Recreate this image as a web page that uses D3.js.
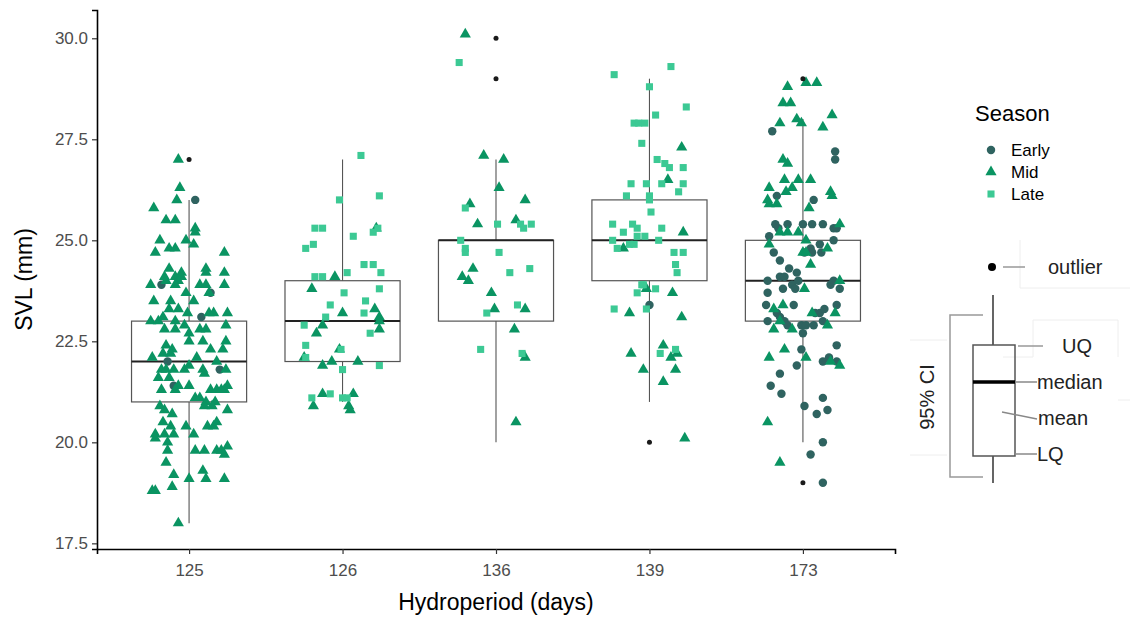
<!DOCTYPE html>
<html>
<head>
<meta charset="utf-8">
<script src="https://cdn.jsdelivr.net/npm/d3@7"></script>
<style>
  body { margin: 0; background: #fff; }
  svg { display: block; font-family: "Liberation Sans", Arial, sans-serif; }
</style>
</head>
<body>
<svg id="chart" width="1139" height="619"></svg>
<script>
// categories and box stats
var cats = ["125", "126", "136", "139", "173"];
var yTicks = [17.5, 20, 22.5, 25, 27.5, 30];
var seasons = ["Early", "Mid", "Late"];
var seasonColors = ["#2f6360", "#0a9462", "#3cc994"];

var boxLo  = [18, 21, 20, 21, 20];
var boxQ1  = [21, 22, 23, 24, 23];
var boxMed = [22, 23, 25, 25, 24];
var boxQ3  = [23, 24, 25, 26, 25];
var boxHi  = [26, 27, 27, 29, 28];
var outliers = [[27], [], [30, 29], [20], [29, 19]];

// jittered points: [category, jitter (fraction of step), SVL]
var earlyPts = [
  ["125",0.04,26.0],["125",-0.18,23.9],["125",0.14,23.7],["125",0.08,23.1],["125",-0.14,22.0],
  ["125",0.20,21.8],["125",-0.10,21.4],
  ["139",0.00,23.4],
  ["173",-0.20,27.7],["173",0.21,27.2],["173",0.21,27.0],["173",-0.17,26.1],["173",0.07,26.0],
  ["173",-0.18,25.4],["173",-0.16,25.3],["173",-0.10,25.4],["173",0.00,25.4],["173",0.06,25.4],
  ["173",0.13,25.4],["173",0.20,25.3],["173",0.22,25.3],["173",-0.22,25.1],["173",0.20,25.0],
  ["173",0.11,24.9],["173",0.05,24.8],["173",0.06,24.7],["173",-0.19,24.7],["173",0.12,24.7],
  ["173",0.01,24.7],["173",-0.15,24.5],["173",-0.09,24.3],["173",-0.04,24.2],["173",-0.15,24.1],
  ["173",-0.12,24.1],["173",-0.23,24.0],["173",-0.03,24.0],["173",-0.07,23.9],["173",0.18,23.9],
  ["173",0.20,24.0],["173",-0.23,23.7],["173",-0.13,23.8],["173",-0.05,23.8],["173",0.24,23.8],
  ["173",-0.24,23.4],["173",-0.06,23.4],["173",0.22,23.4],["173",0.08,23.2],["173",0.11,23.2],
  ["173",0.14,23.3],["173",-0.17,23.2],["173",-0.15,23.1],["173",-0.23,23.0],["173",-0.12,23.0],
  ["173",-0.10,22.9],["173",-0.01,22.9],["173",0.02,22.9],["173",0.07,22.9],["173",0.13,23.0],
  ["173",0.00,22.7],["173",-0.01,22.3],["173",0.22,22.4],["173",0.13,22.0],["173",0.17,22.1],
  ["173",0.22,22.0],["173",-0.04,21.9],["173",-0.15,21.7],["173",-0.21,21.4],["173",-0.14,21.2],
  ["173",0.01,20.9],["173",0.13,21.1],["173",0.09,20.7],["173",0.16,20.8],["173",0.13,20.0],
  ["173",0.05,19.7],["173",0.13,19.0]
];

var midPts = [
  ["125",-0.07,27.0],["125",-0.06,26.3],["125",-0.08,26.0],["125",-0.23,25.8],["125",-0.15,25.5],
  ["125",-0.09,25.5],["125",0.04,25.3],["125",0.04,25.2],["125",-0.19,25.0],["125",-0.02,25.0],
  ["125",0.03,24.9],["125",-0.13,24.8],["125",-0.09,24.8],["125",-0.22,24.7],["125",0.23,24.7],
  ["125",-0.13,24.3],["125",0.11,24.3],["125",0.11,24.2],["125",0.23,24.2],["125",-0.16,24.1],
  ["125",-0.09,24.1],["125",-0.05,24.2],["125",-0.15,24.0],["125",-0.07,24.0],["125",-0.05,24.1],
  ["125",-0.25,23.9],["125",-0.09,23.9],["125",-0.02,23.7],["125",0.07,23.9],["125",0.11,23.9],
  ["125",0.13,23.7],["125",0.23,23.9],["125",-0.23,23.5],["125",-0.12,23.5],["125",-0.07,23.3],
  ["125",-0.01,23.2],["125",0.03,23.5],["125",-0.13,23.3],["125",0.16,23.2],["125",0.25,23.2],
  ["125",0.13,23.2],["125",-0.25,23.0],["125",-0.20,23.0],["125",-0.17,23.1],["125",-0.09,23.0],
  ["125",-0.03,22.9],["125",0.24,22.9],["125",-0.16,22.8],["125",-0.09,22.8],["125",0.00,22.7],
  ["125",0.07,22.8],["125",0.11,22.8],["125",-0.15,22.4],["125",-0.11,22.3],["125",0.00,22.5],
  ["125",0.09,22.5],["125",0.24,22.5],["125",0.14,22.3],["125",0.22,22.3],["125",-0.24,22.1],
  ["125",-0.17,22.2],["125",-0.12,22.2],["125",0.05,22.1],["125",0.18,22.0],["125",-0.18,21.8],
  ["125",-0.15,21.8],["125",-0.10,21.8],["125",-0.03,21.8],["125",0.00,21.9],["125",0.09,21.8],
  ["125",0.10,21.7],["125",0.24,21.8],["125",-0.20,21.6],["125",-0.13,21.6],["125",-0.07,21.4],
  ["125",0.00,21.4],["125",0.14,21.3],["125",0.18,21.3],["125",0.25,21.4],["125",0.23,21.3],
  ["125",-0.18,21.3],["125",-0.09,21.3],["125",0.07,21.1],["125",0.11,21.0],["125",0.17,21.0],
  ["125",0.21,21.3],["125",-0.19,20.9],["125",-0.16,20.8],["125",-0.11,20.7],["125",0.04,21.1],
  ["125",0.10,20.9],["125",0.15,20.9],["125",0.25,20.8],["125",-0.17,20.5],["125",-0.12,20.4],
  ["125",-0.02,20.4],["125",0.12,20.4],["125",0.16,20.4],["125",0.18,20.5],["125",-0.22,20.2],
  ["125",-0.22,20.1],["125",-0.16,20.2],["125",-0.14,20.0],["125",-0.10,20.2],["125",0.03,20.2],
  ["125",-0.14,19.8],["125",0.04,19.8],["125",0.10,19.8],["125",0.18,19.8],["125",0.25,19.9],
  ["125",0.23,19.7],["125",0.21,19.8],["125",-0.15,19.5],["125",-0.10,19.2],["125",0.00,19.1],
  ["125",0.09,19.3],["125",0.11,19.1],["125",0.23,19.1],["125",-0.24,18.8],["125",-0.22,18.8],
  ["125",-0.11,18.9],["125",-0.07,18.0],
  ["126",-0.05,24.1],["126",-0.20,23.8],["126",0.00,23.2],["126",0.21,23.3],["126",0.24,23.1],
  ["126",0.24,23.0],["126",0.24,22.8],["126",-0.13,22.9],["126",-0.17,22.7],["126",-0.02,22.3],
  ["126",-0.25,22.1],["126",-0.13,21.9],["126",-0.07,22.0],["126",0.10,22.0],["126",-0.13,21.2],
  ["126",0.07,21.2],["126",-0.19,20.9],["126",0.04,20.9],["126",0.05,20.8],["126",0.22,25.3],
  ["136",-0.20,30.1],["136",-0.08,27.1],["136",0.05,27.0],["136",0.02,26.3],["136",0.19,26.0],
  ["136",-0.17,25.9],["136",-0.12,25.4],["136",0.13,25.5],["136",-0.15,24.3],["136",-0.22,24.1],
  ["136",-0.18,24.0],["136",-0.03,23.7],["136",-0.01,23.3],["136",0.19,23.3],["136",0.12,22.8],
  ["136",0.19,22.1],["136",0.13,20.5],
  ["139",0.21,27.3],["139",0.12,26.5],["139",0.22,25.2],["139",-0.17,24.8],["139",-0.02,23.8],
  ["139",0.15,23.7],["139",-0.13,23.2],["139",0.21,23.1],["139",-0.12,22.2],["139",0.09,22.4],
  ["139",0.14,22.1],["139",0.18,22.2],["139",-0.04,21.8],["139",0.17,21.8],["139",0.09,21.5],
  ["139",0.23,20.1],
  ["173",-0.10,28.8],["173",0.02,28.9],["173",0.09,28.9],["173",-0.13,28.4],["173",-0.08,28.4],
  ["173",-0.15,27.9],["173",-0.04,28.0],["173",-0.01,27.9],["173",0.13,27.8],["173",0.19,28.1],
  ["173",-0.13,27.0],["173",-0.10,26.9],["173",-0.22,26.3],["173",-0.12,26.5],["173",-0.07,26.3],
  ["173",-0.11,26.2],["173",-0.03,26.5],["173",0.05,26.5],["173",0.18,26.2],["173",0.19,26.1],
  ["173",-0.23,26.0],["173",-0.22,25.9],["173",-0.17,25.9],["173",0.04,25.8],["173",-0.15,25.2],
  ["173",-0.10,25.2],["173",-0.03,25.2],["173",0.24,25.4],["173",0.02,25.0],["173",-0.22,24.9],
  ["173",0.00,24.7],["173",0.02,24.7],["173",0.16,24.8],["173",0.05,24.4],["173",0.24,24.0],
  ["173",0.01,23.8],["173",-0.19,23.3],["173",-0.13,23.4],["173",0.06,23.2],["173",0.21,23.2],
  ["173",-0.19,22.8],["173",-0.15,23.0],["173",-0.07,22.8],["173",0.16,22.9],["173",-0.22,22.1],
  ["173",-0.12,22.3],["173",0.02,22.1],["173",0.18,22.0],["173",0.24,21.9],["173",-0.23,20.5],
  ["173",-0.15,19.5]
];

var latePts = [
  ["126",0.12,27.1],["126",-0.02,26.0],["126",0.24,26.1],["126",-0.18,25.3],["126",-0.13,25.3],
  ["126",0.07,25.1],["126",0.23,25.3],["126",0.20,25.2],["126",-0.19,24.9],["126",-0.24,24.8],
  ["126",0.03,24.2],["126",0.14,24.4],["126",0.20,24.4],["126",0.25,24.2],["126",-0.18,24.1],
  ["126",-0.13,24.1],["126",0.01,23.7],["126",0.24,23.8],["126",-0.08,23.4],["126",0.15,23.5],
  ["126",0.14,23.2],["126",-0.11,23.1],["126",-0.25,22.9],["126",0.18,22.7],["126",-0.24,22.4],
  ["126",-0.01,22.3],["126",-0.24,22.1],["126",0.24,21.9],["126",0.00,21.8],["126",-0.20,21.1],
  ["126",-0.08,21.2],["126",0.00,21.1],["126",0.03,21.1],
  ["136",-0.24,29.4],["136",-0.20,25.8],["136",0.01,25.4],["136",0.16,25.4],["136",0.18,25.3],
  ["136",0.23,25.4],["136",-0.23,25.0],["136",-0.20,24.8],["136",-0.20,24.7],["136",0.02,24.7],
  ["136",0.09,24.2],["136",0.22,24.3],["136",0.14,23.4],["136",-0.06,23.2],["136",-0.10,22.3],
  ["136",0.17,22.2],
  ["139",0.14,29.3],["139",-0.23,29.1],["139",0.00,28.8],["139",0.24,28.3],["139",0.04,28.1],
  ["139",-0.10,27.9],["139",-0.07,27.9],["139",-0.03,27.9],["139",-0.05,27.4],["139",0.05,27.0],
  ["139",0.10,26.9],["139",0.13,26.8],["139",0.22,26.8],["139",0.08,26.4],["139",-0.12,26.4],
  ["139",-0.02,26.4],["139",0.22,26.4],["139",0.19,26.2],["139",-0.15,26.1],["139",0.00,26.1],
  ["139",0.00,26.0],["139",0.01,25.7],["139",-0.24,25.4],["139",-0.11,25.4],["139",-0.08,25.3],
  ["139",0.08,25.3],["139",-0.17,25.2],["139",-0.24,25.0],["139",-0.08,25.1],["139",-0.03,25.1],
  ["139",0.06,25.0],["139",-0.13,24.9],["139",-0.10,24.9],["139",-0.21,24.8],["139",0.16,24.7],
  ["139",0.22,24.7],["139",0.17,24.4],["139",0.18,24.2],["139",-0.05,23.9],["139",-0.04,23.9],
  ["139",0.04,23.8],["139",-0.08,23.7],["139",-0.23,23.3],["139",-0.02,23.3],["139",0.07,22.2],
  ["139",0.17,22.3]
];

var svg = d3.select("#chart");
var mLeft = 97, mRight = 895, mTop = 10, mBottom = 549;

var x = d3.scalePoint().domain(cats).range([mLeft, mRight]).padding(0.6);
var y = d3.scaleLinear().domain([17.36, 30.7]).range([mBottom, mTop]);
var step = x.step();
var bw = step * 0.75;

var color = d3.scaleOrdinal().domain(seasons).range(seasonColors);
var shape = d3.scaleOrdinal().domain(seasons)
  .range([d3.symbolCircle, d3.symbolTriangle, d3.symbolSquare]);
var symSize = {Early: 56, Mid: 54, Late: 50};

// boxes
var boxes = cats.map(function(c, i) {
  return {c: c, lo: boxLo[i], q1: boxQ1[i], med: boxMed[i], q3: boxQ3[i], hi: boxHi[i], out: outliers[i]};
});

var gb = svg.append("g");
gb.selectAll("line.wh-up").data(boxes).enter().append("line")
  .attr("x1", function(d) { return x(d.c); }).attr("x2", function(d) { return x(d.c); })
  .attr("y1", function(d) { return y(d.q3); }).attr("y2", function(d) { return y(d.hi); })
  .attr("stroke", "#555").attr("stroke-width", 1.1);
gb.selectAll("line.wh-dn").data(boxes).enter().append("line")
  .attr("x1", function(d) { return x(d.c); }).attr("x2", function(d) { return x(d.c); })
  .attr("y1", function(d) { return y(d.q1); }).attr("y2", function(d) { return y(d.lo); })
  .attr("stroke", "#555").attr("stroke-width", 1.1);
gb.selectAll("rect").data(boxes).enter().append("rect")
  .attr("x", function(d) { return x(d.c) - bw / 2; })
  .attr("width", bw)
  .attr("y", function(d) { return y(d.q3); })
  .attr("height", function(d) { return y(d.q1) - y(d.q3); })
  .attr("fill", "none").attr("stroke", "#555").attr("stroke-width", 1.2);
gb.selectAll("line.med").data(boxes).enter().append("line")
  .attr("x1", function(d) { return x(d.c) - bw / 2; })
  .attr("x2", function(d) { return x(d.c) + bw / 2; })
  .attr("y1", function(d) { return y(d.med); }).attr("y2", function(d) { return y(d.med); })
  .attr("stroke", "#222").attr("stroke-width", 2);

// points
function addPoints(arr, season) {
  svg.append("g").selectAll("path").data(arr).enter().append("path")
    .attr("d", d3.symbol().type(shape(season)).size(symSize[season]))
    .attr("transform", function(d) {
      return "translate(" + (x(d[0]) + d[1] * step) + "," + y(d[2]) + ")";
    })
    .attr("fill", color(season));
}
addPoints(earlyPts, "Early");
addPoints(midPts, "Mid");
addPoints(latePts, "Late");

// outliers
var outPts = [];
boxes.forEach(function(b) { b.out.forEach(function(v) { outPts.push([b.c, v]); }); });
svg.append("g").selectAll("circle").data(outPts).enter().append("circle")
  .attr("cx", function(d) { return x(d[0]); })
  .attr("cy", function(d) { return y(d[1]); })
  .attr("r", 2.5).attr("fill", "#1a1a1a");

// axes
var ax = svg.append("g").attr("transform", "translate(0," + mBottom + ")")
  .call(d3.axisBottom(x).tickSizeOuter(0).tickSize(5).tickPadding(10));
var ay = svg.append("g").attr("transform", "translate(" + mLeft + ",0)")
  .call(d3.axisLeft(y).tickValues(yTicks).tickFormat(d3.format(".1f")).tickSizeOuter(0).tickSize(5).tickPadding(4));
[ax, ay].forEach(function(a) {
  a.select(".domain").attr("stroke", "#000").attr("stroke-width", 1.6);
  a.selectAll(".tick line").attr("stroke", "#333").attr("stroke-width", 1.2);
  a.selectAll(".tick text").attr("fill", "#4d4d4d").style("font-size", "17px")
    .style("font-family", "'Liberation Sans', Arial, sans-serif");
});

svg.append("text").attr("x", (mLeft + mRight) / 2).attr("y", 610)
  .attr("text-anchor", "middle").style("font-size", "23px").attr("fill", "#000")
  .text("Hydroperiod (days)");
svg.append("text")
  .attr("transform", "translate(32," + (mTop + mBottom) / 2 + ") rotate(-90)")
  .attr("text-anchor", "middle").style("font-size", "23px").attr("fill", "#000")
  .text("SVL (mm)");

// legend
var lg = svg.append("g");
lg.append("text").attr("x", 975).attr("y", 121).style("font-size", "22px").text("Season");
seasons.forEach(function(s, i) {
  var yy = 150 + i * 22;
  lg.append("path").attr("d", d3.symbol().type(shape(s)).size(symSize[s]))
    .attr("transform", "translate(991," + yy + ")").attr("fill", color(s));
  lg.append("text").attr("x", 1011).attr("y", yy + 6).style("font-size", "17px").text(s);
});

// boxplot key (annotation image)
var k = svg.append("g");
var faint = "#eeeeee";
[[1020,240,1020,288],[1020,288,1130,288],[1033,320,1118,320],[1118,320,1118,357],[1033,320,1033,357],
 [910,340,947,340],[910,455,947,455],[1118,400,1130,400],[1003,357,1033,357]].forEach(function(l) {
  k.append("line").attr("x1", l[0]).attr("y1", l[1]).attr("x2", l[2]).attr("y2", l[3])
    .attr("stroke", faint).attr("stroke-width", 1);
});
k.append("circle").attr("cx", 992).attr("cy", 267).attr("r", 4).attr("fill", "#000");
k.append("line").attr("x1", 1003).attr("x2", 1025).attr("y1", 267).attr("y2", 267).attr("stroke", "#999").attr("stroke-width", 1.5);
k.append("text").attr("x", 1048).attr("y", 274).style("font-size", "20px").attr("fill", "#222").text("outlier");
k.append("line").attr("x1", 993).attr("x2", 993).attr("y1", 295).attr("y2", 345).attr("stroke", "#555").attr("stroke-width", 1.8);
k.append("line").attr("x1", 993).attr("x2", 993).attr("y1", 456).attr("y2", 483).attr("stroke", "#555").attr("stroke-width", 1.8);
k.append("rect").attr("x", 973).attr("y", 345).attr("width", 42).attr("height", 111)
  .attr("fill", "none").attr("stroke", "#555").attr("stroke-width", 1.5);
k.append("line").attr("x1", 973).attr("x2", 1015).attr("y1", 382).attr("y2", 382).attr("stroke", "#000").attr("stroke-width", 3.5);
k.append("path").attr("d", "M983,315 H950 V477 H983").attr("fill", "none").attr("stroke", "#999").attr("stroke-width", 1.5);
k.append("text").attr("transform", "translate(934,397) rotate(-90)").attr("text-anchor", "middle")
  .style("font-size", "20px").attr("fill", "#222").text("95% CI");
k.append("line").attr("x1", 1018).attr("x2", 1043).attr("y1", 346).attr("y2", 346).attr("stroke", "#999").attr("stroke-width", 1.5);
k.append("text").attr("x", 1062).attr("y", 353).style("font-size", "20px").attr("fill", "#222").text("UQ");
k.append("line").attr("x1", 1015).attr("x2", 1037).attr("y1", 382).attr("y2", 382).attr("stroke", "#888").attr("stroke-width", 1.5);
k.append("text").attr("x", 1037).attr("y", 389).style("font-size", "20px").attr("fill", "#222").text("median");
k.append("line").attr("x1", 1002).attr("x2", 1037).attr("y1", 412).attr("y2", 419).attr("stroke", "#888").attr("stroke-width", 1.5);
k.append("text").attr("x", 1038).attr("y", 425).style("font-size", "20px").attr("fill", "#222").text("mean");
k.append("line").attr("x1", 1015).attr("x2", 1037).attr("y1", 454).attr("y2", 454).attr("stroke", "#888").attr("stroke-width", 1.5);
k.append("text").attr("x", 1037).attr("y", 461).style("font-size", "20px").attr("fill", "#222").text("LQ");
</script>
</body>
</html>
